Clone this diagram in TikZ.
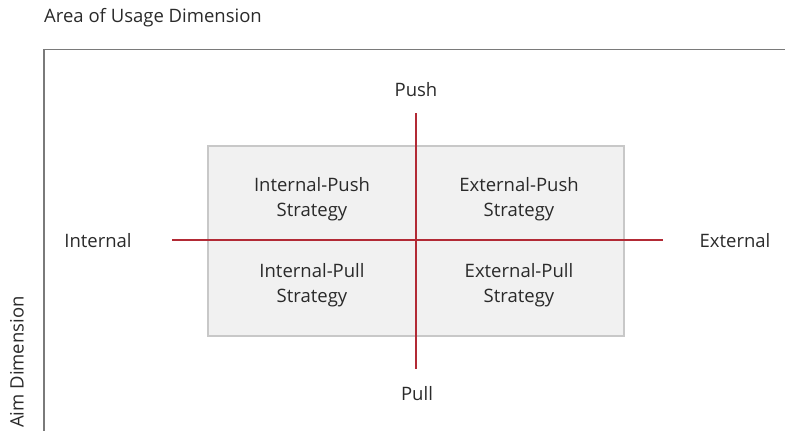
\documentclass[tikz,border=0pt]{standalone}
\usepackage{fontspec}
\setmainfont{Open Sans}
\definecolor{axisred}{HTML}{B22A35}
\definecolor{boxgray}{HTML}{F1F1F1}
\definecolor{boxline}{HTML}{C8C8C8}
\definecolor{framegray}{HTML}{7A7A7A}
\definecolor{txt}{HTML}{2A2A2A}
\tikzset{
  lbl/.style={text=txt,font=\fontsize{18.5}{25}\selectfont},
  quad/.style={lbl,align=center}
}
\begin{document}
\begin{tikzpicture}[x=1pt,y=-1pt]
        \useasboundingbox (0,0) rectangle (785,431);
        \node[lbl,anchor=west,inner sep=0pt] (usage) at (44,18) {Area of Usage Dimension};
        \node[lbl,rotate=90,anchor=west,inner sep=0pt] (aim) at (17,428) {Aim Dimension};
        \draw[framegray,line width=1.5pt] (785,49.5) coordinate (frameR) -- (44,49.5) coordinate (frameC) -- (44,431) coordinate (frameB);
        \filldraw[fill=boxgray,draw=boxline,line width=1.2pt] (208,146) rectangle (624,336);
        % axes
        \node[lbl] (push) at (416,90) {Push};
        \node[lbl] (pull) at (417,394) {Pull};
        \node[lbl] (internal) at (98,241) {Internal};
        \node[lbl] (external) at (735,241) {External};
        \coordinate (pushend) at (416,113);
        \coordinate (pullend) at (416,369);
        \coordinate (intend) at (172,240);
        \coordinate (extend) at (663,240);
        \draw[axisred,line width=1.2pt] (pushend) -- (pullend);
        \draw[axisred,line width=1.2pt] (intend) -- (extend);
        % quadrants
        \node[quad] (ipush) at (312,199) {Internal-Push\\Strategy};
        \node[quad] (epush) at (519,199) {External-Push\\Strategy};
        \node[quad] (ipull) at (312,285) {Internal-Pull\\Strategy};
        \node[quad] (epull) at (519,285) {External-Pull\\Strategy};
\end{tikzpicture}
\end{document}
